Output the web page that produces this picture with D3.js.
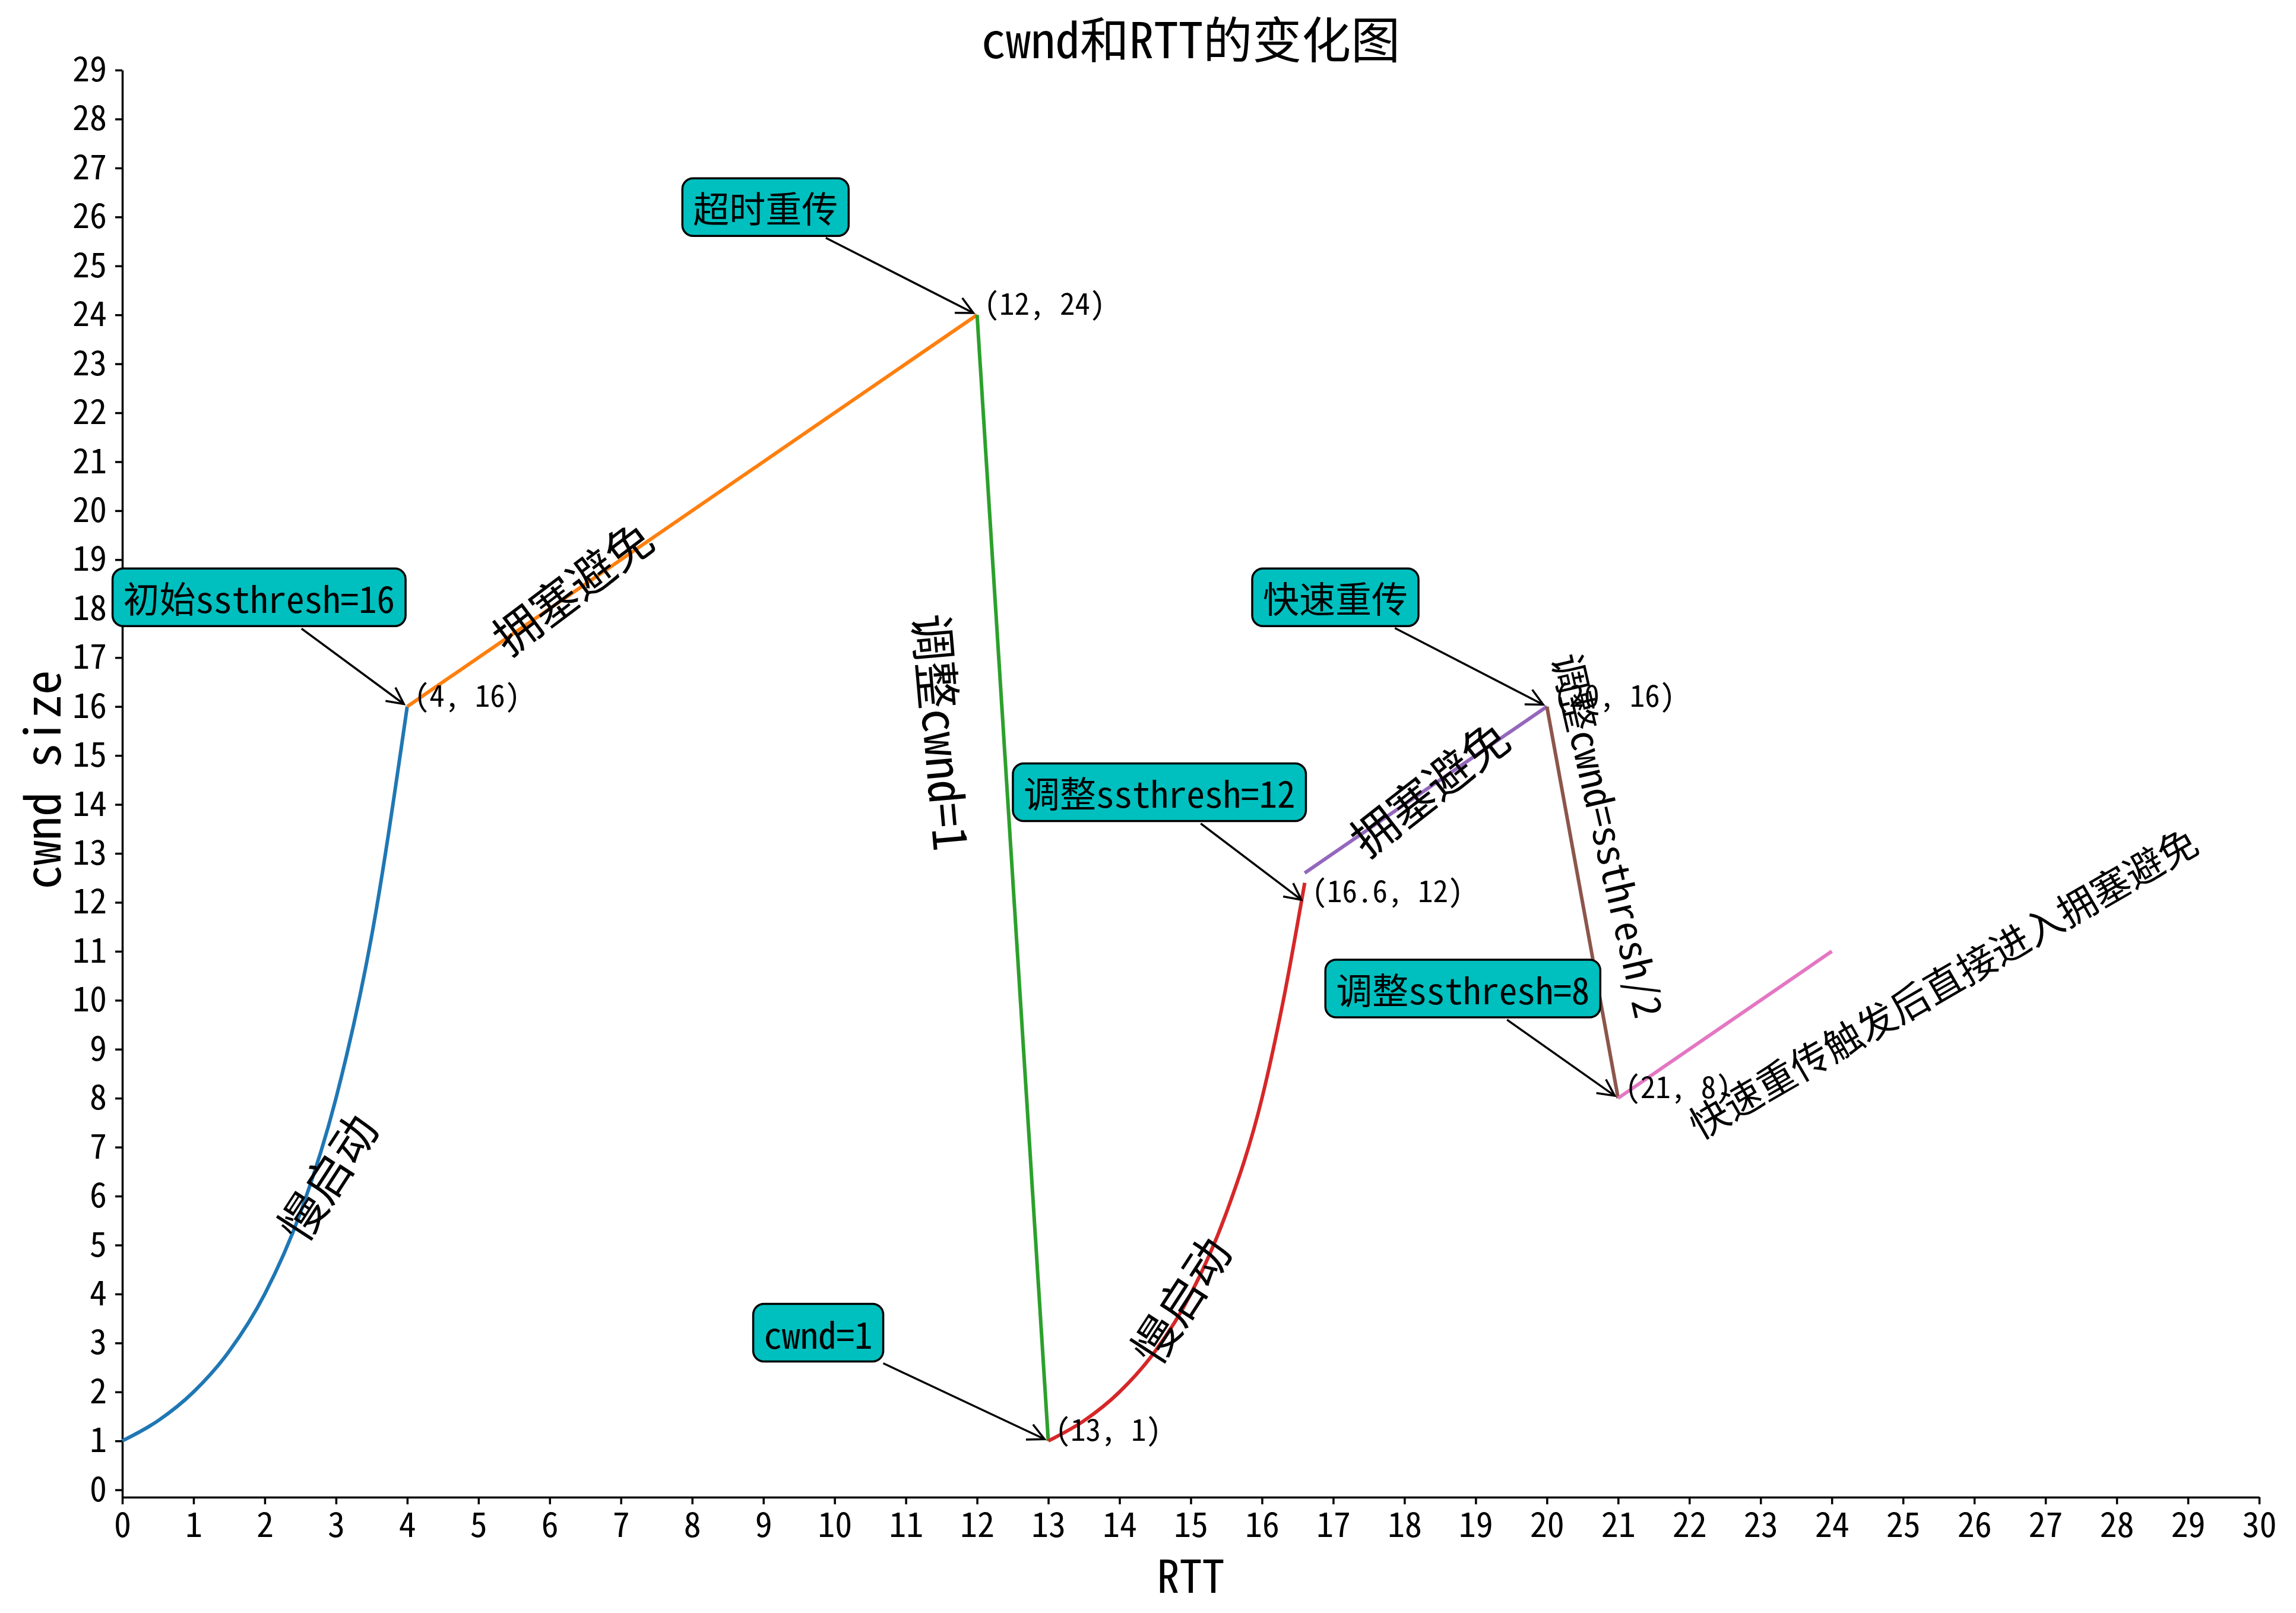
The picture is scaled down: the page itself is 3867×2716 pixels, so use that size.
<!DOCTYPE html>
<html lang="zh">
<head>
  <meta charset="UTF-8">
  <title>cwnd和RTT的变化图</title>
  <script src="https://d3js.org/d3.v7.min.js"></script>
  <style>
    body { margin: 0; padding: 0; background: #fff; }
    svg { display: block; }
    text { font-family: "Noto Sans Mono CJK SC", "Noto Sans CJK SC", sans-serif; fill: #000; }
    .axis path, .axis line { stroke: #000; stroke-width: 3.5px; }
    .axis text { font-size: 58px; }
  </style>
</head>
<body>
  <div id="chart"></div>

  <script>
    // curve segments
    const blueX = [0, 0.5, 1, 1.5, 2, 2.5, 3, 3.5, 4];
    const blueY = [1, 1.41, 2, 2.83, 4, 5.66, 8, 11.31, 16];
    const orangeX = [4, 12];
    const orangeY = [16, 24];
    const greenX = [12, 13];
    const greenY = [24, 1];
    const redX = [13, 13.5, 14, 14.5, 15, 15.5, 16, 16.3, 16.6];
    const redY = [1, 1.41, 2, 2.83, 4, 5.66, 8, 10.0, 12.4];
    const purpleX = [16.6, 20];
    const purpleY = [12.6, 16];
    const brownX = [20, 21];
    const brownY = [16, 8];
    const pinkX = [21, 24];
    const pinkY = [8, 11];

    const xTicks = d3.range(0, 31);
    const yTicks = d3.range(0, 30);

    // annotated points
    const pointX = [4, 12, 16.6, 20, 21, 13];
    const pointY = [16, 24, 12, 16, 8, 1];
    const pointLabels = ["(4, 16)", "(12, 24)", "(16.6, 12)", "(20, 16)", "(21, 8)", "(13, 1)"];

    // boxed notes (text position in data units)
    const noteTexts = ["初始ssthresh=16", "超时重传", "调整ssthresh=12", "快速重传", "调整ssthresh=8", "cwnd=1"];
    const noteX = [1.92, 9.03, 14.56, 17.03, 18.82, 9.77];
    const noteY = [18.23, 26.2, 14.25, 18.23, 10.24, 3.21];

    // phase labels along the curve
    const phaseTexts = ["慢启动", "拥塞避免", "调整cwnd=1", "慢启动", "拥塞避免", "调整cwnd=ssthresh/2", "快速重传触发后直接进入拥塞避免"];
    const phaseX = [2.85, 6.3, 11.54, 14.83, 18.33, 20.89, 25.55];
    const phaseY = [6.41, 18.47, 15.48, 3.9, 14.37, 13.38, 10.39];

    // styling
    const segColors = ["#1f77b4", "#ff7f0e", "#2ca02c", "#d62728", "#9467bd", "#8c564b", "#e377c2"];
    const phaseAngles = [-57, -37, 85, -57, -38, 77, -30];
    const phaseSizes = [78, 78, 80, 78, 78, 66, 65];

    const width = 3867;
    const height = 2716;

    const svg = d3.select("#chart")
      .append("svg")
      .attr("width", width)
      .attr("height", height);

    const x = d3.scaleLinear().domain([0, 30]).range([206, 3805]);
    const y = d3.scaleLinear().domain([-0.15, 29]).range([2521, 118]);

    svg.append("g")
      .attr("class", "axis")
      .attr("transform", `translate(0,${y(-0.15)})`)
      .call(d3.axisBottom(x).tickValues(xTicks).tickSize(12).tickSizeOuter(0).tickPadding(14));

    svg.append("g")
      .attr("class", "axis")
      .attr("transform", `translate(${x(0)},0)`)
      .call(d3.axisLeft(y).tickValues(yTicks).tickSize(12).tickSizeOuter(0).tickPadding(14));

    svg.selectAll(".axis text").attr("font-family", null);

    // title and axis labels
    svg.append("text")
      .attr("x", (x(0) + x(30)) / 2)
      .attr("y", 98)
      .attr("text-anchor", "middle")
      .style("font-size", "83px")
      .text("cwnd和RTT的变化图");

    svg.append("text")
      .attr("x", (x(0) + x(30)) / 2)
      .attr("y", 2682)
      .attr("text-anchor", "middle")
      .style("font-size", "76px")
      .text("RTT");

    svg.append("text")
      .attr("transform", `translate(102,${(y(0) + y(29)) / 2}) rotate(-90)`)
      .attr("text-anchor", "middle")
      .style("font-size", "82px")
      .text("cwnd size");

    // curve segments
    const segments = [
      [blueX, blueY], [orangeX, orangeY], [greenX, greenY], [redX, redY],
      [purpleX, purpleY], [brownX, brownY], [pinkX, pinkY]
    ];
    const line = d3.line()
      .x(d => x(d[0]))
      .y(d => y(d[1]))
      .curve(d3.curveMonotoneX);

    segments.forEach(function(s, i) {
      svg.append("path")
        .datum(d3.zip(s[0], s[1]))
        .attr("d", line)
        .attr("fill", "none")
        .attr("stroke", segColors[i])
        .attr("stroke-width", 6);
    });

    // point labels
    pointLabels.forEach(function(t, i) {
      svg.append("text")
        .attr("x", x(pointX[i] + 0.1))
        .attr("y", y(pointY[i]))
        .style("font-size", "51px")
        .text(t);
    });

    // phase labels
    phaseTexts.forEach(function(t, i) {
      svg.append("text")
        .attr("transform", `translate(${x(phaseX[i])},${y(phaseY[i])}) rotate(${phaseAngles[i]})`)
        .attr("text-anchor", "middle")
        .attr("dominant-baseline", "central")
        .style("font-size", phaseSizes[i] + "px")
        .text(t);
    });

    // boxed notes with arrows
    const pad = 18;
    noteTexts.forEach(function(t, i) {
      const cx = x(noteX[i]), cy = y(noteY[i]);
      const tx = x(pointX[i]), ty = y(pointY[i]);
      const g = svg.append("g");
      const rect = g.append("rect");
      const label = g.append("text")
        .attr("x", cx)
        .attr("y", cy)
        .attr("text-anchor", "middle")
        .attr("dominant-baseline", "central")
        .style("font-size", "61px")
        .text(t);
      const w = label.node().getComputedTextLength() + 2 * pad;
      const h = 61 + 2 * pad;
      rect.attr("x", cx - w / 2)
        .attr("y", cy - h / 2)
        .attr("width", w)
        .attr("height", h)
        .attr("rx", pad)
        .attr("fill", "#00bfbf")
        .attr("stroke", "#000")
        .attr("stroke-width", 3.5);

      // arrow from box edge to the point
      const dx = tx - cx, dy = ty - cy;
      const len = Math.hypot(dx, dy);
      const ux = dx / len, uy = dy / len;
      const tEdge = Math.min(Math.abs((w / 2) / ux), Math.abs((h / 2) / uy));
      const sx = cx + ux * (tEdge + 7), sy = cy + uy * (tEdge + 7);
      const ex = tx - ux * 7, ey = ty - uy * 7;
      g.append("line")
        .attr("x1", sx).attr("y1", sy)
        .attr("x2", ex).attr("y2", ey)
        .attr("stroke", "#000")
        .attr("stroke-width", 3.5);
      const hl = 28, hw = 14;
      const bx = ex - ux * hl, by = ey - uy * hl;
      g.append("path")
        .attr("d", `M${bx - uy * hw},${by + ux * hw}L${ex},${ey}L${bx + uy * hw},${by - ux * hw}`)
        .attr("fill", "none")
        .attr("stroke", "#000")
        .attr("stroke-width", 3.5);
    });
  </script>
</body>
</html>
